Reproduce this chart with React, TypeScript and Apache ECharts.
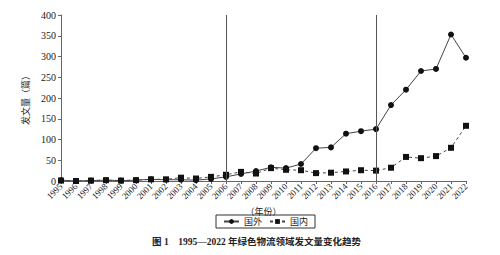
import React, { useEffect, useRef } from "react";
import * as echarts from "echarts";

const years = ["1995","1996","1997","1998","1999","2000","2001","2002","2003","2004","2005","2006","2007","2008","2009","2010","2011","2012","2013","2014","2015","2016","2017","2018","2019","2020","2021","2022"];
const foreign = [2, 0, 1, 2, 1, 2, 4, 3, 3, 2, 5, 10, 17, 24, 33, 31, 41, 79, 81, 114, 120, 125, 183, 220, 265, 270, 353, 297];
const domestic = [1, 0, 1, 2, 1, 2, 4, 4, 8, 6, 10, 15, 22, 18, 31, 27, 26, 19, 20, 23, 26, 25, 32, 58, 55, 60, 80, 133];
const markYears = ["2006", "2016"];
const yTicks = { min: 0, max: 400, interval: 50 };

const FONT = "'Liberation Serif', 'DejaVu Serif', 'Noto Sans CJK SC', serif";
const CJK = "'Liberation Serif', 'Noto Sans CJK SC', serif";

export default function App() {
  const ref = useRef<HTMLDivElement>(null);
  useEffect(() => {
    const chart = echarts.init(ref.current!, null, { renderer: "svg" });
    chart.setOption({
      animation: false,
      textStyle: { fontFamily: FONT },
      grid: { left: 61, right: 34, top: 15, bottom: 74 },
      title: {
        text: "图 1    1995—2022 年绿色物流领域发文量变化趋势",
        left: 152,
        top: 237,
        padding: 0,
        textStyle: { fontSize: 9.5, fontWeight: "bold", color: "#222", fontFamily: CJK },
      },
      legend: {
        top: 215,
        left: 216,
        orient: "horizontal",
        borderColor: "#333",
        borderWidth: 1,
        padding: [2, 7],
        itemWidth: 15,
        itemHeight: 6,
        itemGap: 7,
        textStyle: { fontSize: 9, color: "#222", fontFamily: CJK },
        data: ["国外", "国内"],
      },
      xAxis: {
        type: "category",
        data: years,
        boundaryGap: false,
        name: "（年份）",
        nameLocation: "middle",
        nameGap: 19,
        nameTextStyle: { fontSize: 9, color: "#222", fontFamily: CJK },
        axisLine: { lineStyle: { color: "#666" } },
        axisTick: { show: true, length: 3, lineStyle: { color: "#666" } },
        axisLabel: { rotate: 45, fontSize: 9, color: "#222", interval: 0, margin: 4, fontFamily: FONT },
        splitLine: { show: false },
      },
      yAxis: {
        type: "value",
        min: yTicks.min,
        max: yTicks.max,
        interval: yTicks.interval,
        name: "发文量（篇）",
        nameLocation: "middle",
        nameGap: 19,
        nameRotate: 90,
        nameTextStyle: { fontSize: 9, color: "#222", fontFamily: CJK },
        axisLine: { show: true, lineStyle: { color: "#666" } },
        axisTick: { show: true, length: 3, lineStyle: { color: "#666" } },
        axisLabel: { fontSize: 10, color: "#222", margin: 5, fontFamily: FONT },
        splitLine: { show: false },
      },
      series: [
        {
          name: "国外",
          type: "line",
          data: foreign,
          symbol: "circle",
          symbolSize: 6,
          itemStyle: { color: "#111" },
          lineStyle: { color: "#444", width: 1, type: "solid" },
          markLine: {
            silent: true,
            symbol: ["none", "none"],
            label: { show: false },
            lineStyle: { color: "#555", width: 1, type: "solid" },
            data: markYears.map((y) => ({ xAxis: y })),
          },
        },
        {
          name: "国内",
          type: "line",
          data: domestic,
          symbol: "rect",
          symbolSize: 6,
          itemStyle: { color: "#111" },
          lineStyle: { color: "#444", width: 1, type: [3, 3] },
        },
      ],
    });
    return () => chart.dispose();
  }, []);
  return <div ref={ref} style={{ width: 500, height: 255, position: "absolute", left: 0, top: 0 }} />;
}
